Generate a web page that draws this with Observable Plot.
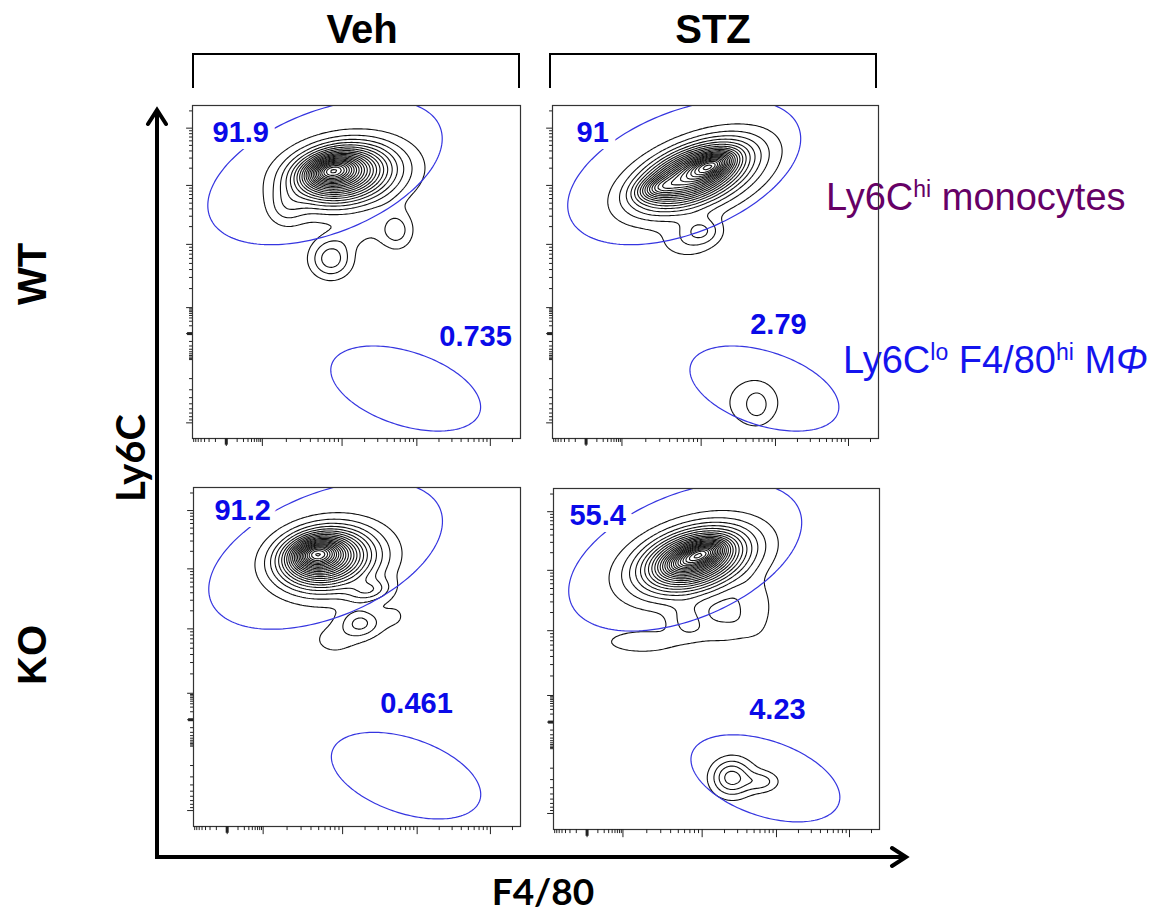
<!DOCTYPE html>
<html><head><meta charset="utf-8">
<script src="https://cdn.jsdelivr.net/npm/d3@7"></script>
<script src="https://cdn.jsdelivr.net/npm/@observablehq/plot@0.6"></script>
<style>
body{margin:0;background:#fff;}
#wrap{position:relative;width:1163px;height:915px;overflow:hidden;background:#fff}
#wrap svg{position:absolute}
</style></head><body><div id="wrap"></div>
<script>
// ---------------- data ----------------
const conditions = ["Veh", "STZ"];
const genotypes = ["WT", "KO"];
const panelKeys = ["WT-Veh", "WT-STZ", "KO-Veh", "KO-STZ"];
const monocytePct = ["91.9", "91", "91.2", "55.4"];
const macrophagePct = ["0.735", "2.79", "0.461", "4.23"];

// cell populations (channel units 0-1000 on each axis): centre, spread, tilt, relative weight
const popWTVeh = [
  {x: 420, y: 806, sx: 45, sy: 24, angle: 12, w: 0.25},
  {x: 440, y: 800, sx: 82, sy: 45, angle: 10, w: 0.33},
  {x: 470, y: 788, sx: 115, sy: 64, angle: 8, w: 0.30},
  {x: 285, y: 690, sx: 40, sy: 40, angle: 0, w: 0.06},
  {x: 422, y: 539, sx: 44, sy: 40, angle: 0, w: 0.13},
  {x: 622, y: 624, sx: 36, sy: 40, angle: 0, w: 0.088},
  {x: 500, y: 610, sx: 60, sy: 30, angle: 10, w: 0.035}
];
const popWTSTZ = [
  {x: 490, y: 822, sx: 42, sy: 20, angle: 20, w: 0.26},
  {x: 320, y: 752, sx: 40, sy: 20, angle: 15, w: 0.14},
  {x: 430, y: 795, sx: 100, sy: 42, angle: 22, w: 0.33},
  {x: 440, y: 785, sx: 130, sy: 62, angle: 20, w: 0.30},
  {x: 459, y: 624, sx: 42, sy: 28, angle: 0, w: 0.09},
  {x: 410, y: 585, sx: 60, sy: 35, angle: 0, w: 0.05},
  {x: 628, y: 100, sx: 22, sy: 28, angle: 0, w: 0.042},
  {x: 617, y: 108, sx: 70, sy: 62, angle: 0, w: 0.06}
];
const popKOVeh = [
  {x: 372, y: 806, sx: 42, sy: 24, angle: 8, w: 0.25},
  {x: 385, y: 798, sx: 75, sy: 45, angle: 8, w: 0.33},
  {x: 420, y: 785, sx: 105, sy: 64, angle: 8, w: 0.30},
  {x: 540, y: 695, sx: 45, sy: 22, angle: 10, w: 0.10},
  {x: 512, y: 600, sx: 42, sy: 30, angle: 0, w: 0.11},
  {x: 430, y: 550, sx: 60, sy: 40, angle: 0, w: 0.045},
  {x: 620, y: 620, sx: 40, sy: 40, angle: 0, w: 0.035}
];
const popKOSTZ = [
  {x: 460, y: 812, sx: 42, sy: 20, angle: 15, w: 0.26},
  {x: 395, y: 780, sx: 40, sy: 20, angle: 15, w: 0.11},
  {x: 430, y: 795, sx: 90, sy: 45, angle: 15, w: 0.32},
  {x: 430, y: 785, sx: 125, sy: 64, angle: 15, w: 0.30},
  {x: 273, y: 550, sx: 90, sy: 26, angle: 0, w: 0.06},
  {x: 410, y: 612, sx: 40, sy: 34, angle: 0, w: 0.07},
  {x: 620, y: 650, sx: 35, sy: 50, angle: 0, w: 0.065},
  {x: 520, y: 580, sx: 70, sy: 28, angle: 0, w: 0.05},
  {x: 545, y: 152, sx: 40, sy: 36, angle: 0, w: 0.14},
  {x: 640, y: 140, sx: 35, sy: 20, angle: 0, w: 0.07},
  {x: 580, y: 150, sx: 75, sy: 50, angle: 0, w: 0.025}
];
const populations = [popWTVeh, popWTSTZ, popKOVeh, popKOSTZ];

// gates (channel units)
const gateMono = {cx: 404, cy: 800, rx: 376, ry: 184, angle: 20.9};
const gateMac = {cx: 650, cy: 150, rx: 237, ry: 111, angle: -17.6};

// biexponential axis decades (channel units): 0, 10^2, 10^3, 10^4, 10^5
const xDecades = [103, 213, 456, 684, 908];
const yDecades = [315, 393, 583, 760, 932];

// ---------------- layout ----------------
const frames = [
  {left: 192, top: 105, w: 328, h: 333},
  {left: 552, top: 105, w: 326, h: 333},
  {left: 193, top: 487, w: 327, h: 339},
  {left: 553, top: 488, w: 326, h: 341}
];
const hiLabelPos = [[61, 889], [74, 889], [64, 903], [49, 894]];
const loLabelPos = [[863, 279], [693, 315], [682, 336], [687, 323]];
const levels = d3.range(0.035, 1.0, 0.036);
const gateColor = "#3535e0";
const pctColor = "#0a0ae8";

function densityOf(pop) {
  const comps = pop.map(b => {
    const a = b.angle * Math.PI / 180;
    return {...b, c: Math.cos(a), s: Math.sin(a)};
  });
  return (x, y) => {
    let v = 0;
    for (const b of comps) {
      const dx = x - b.x, dy = y - b.y;
      const u = dx * b.c + dy * b.s, t = -dx * b.s + dy * b.c;
      v += b.w * Math.exp(-0.5 * (u * u / (b.sx * b.sx) + t * t / (b.sy * b.sy)));
    }
    return v;
  };
}
function ellipsePts(g) {
  const a = g.angle * Math.PI / 180, pts = [];
  for (let k = 0; k <= 180; k++) {
    const t = k / 180 * 2 * Math.PI;
    pts.push({
      x: g.cx + g.rx * Math.cos(t) * Math.cos(a) - g.ry * Math.sin(t) * Math.sin(a),
      y: g.cy + g.rx * Math.cos(t) * Math.sin(a) + g.ry * Math.sin(t) * Math.cos(a)
    });
  }
  return pts;
}
const mults = [2, 3, 4, 5, 6, 7, 8, 9];
function minorTicks(dec) {
  const out = [];
  const spans = [];
  for (let i = 0; i < dec.length - 1; i++) spans.push([dec[i], dec[i + 1] - dec[i]]);
  spans.push([dec[dec.length - 1], dec[dec.length - 1] - dec[dec.length - 2]]);
  for (const [lo, span] of spans) for (const m of mults) out.push(lo + span * Math.log10(m));
  const z = dec[0], s1 = dec[1] - dec[0], s2 = dec[2] - dec[1];
  for (const m of mults) { out.push(z - s1 * Math.log10(m)); out.push(z - s1 - s2 * Math.log10(m)); }
  out.push(z - s1);
  return out.filter(v => v >= 0 && v <= 1000);
}
const xMinor = minorTicks(xDecades), yMinor = minorTicks(yDecades);
const yMajor = [...yDecades, yDecades[0] - (yDecades[2] - yDecades[0])].filter(v => v >= 0);

const wrap = document.getElementById("wrap");

// decorations
const deco = d3.select(wrap).append("svg").attr("width", 1163).attr("height", 915).style("left", 0).style("top", 0);
const ink = "#000";
deco.append("path").attr("d", "M193,88V54H519V88M550,88V54H876V88").attr("fill", "none").attr("stroke", ink).attr("stroke-width", 2);
deco.append("path").attr("d", "M157,857V110M155,857H906").attr("fill", "none").attr("stroke", ink).attr("stroke-width", 4);
deco.append("path").attr("d", "M148,124L157,110L166,124M892,848L906,857L892,866").attr("fill", "none").attr("stroke", ink).attr("stroke-width", 4).attr("stroke-linejoin", "miter").attr("stroke-linecap", "round");
const bold = {"font-family": "'Liberation Sans', Arial, sans-serif", "font-weight": "bold"};
function addText(txt, x, y, attrs, rot) {
  const t = deco.append("text").attr("x", x).attr("y", y).text(txt);
  for (const k in attrs) t.attr(k, attrs[k]);
  if (rot) t.attr("transform", `rotate(${rot},${x},${y})`);
  return t;
}
addText(conditions[0], 362, 43, {...bold, "font-size": 40, "text-anchor": "middle"});
addText(conditions[1], 713, 43, {...bold, "font-size": 40, "text-anchor": "middle"});
addText(genotypes[0], 46, 274, {...bold, "font-size": 40, "text-anchor": "middle"}, -90);
addText(genotypes[1], 46, 655, {...bold, "font-size": 40, "text-anchor": "middle"}, -90);
addText("Ly6C", 145, 458, {"font-family": "Lato, sans-serif", "font-weight": "bold", "font-size": 40, "text-anchor": "middle"}, -90);
addText("F4/80", 543, 905, {"font-family": "Lato, sans-serif", "font-weight": "bold", "font-size": 37, "text-anchor": "middle"});
const t1 = deco.append("text").attr("x", 826).attr("y", 210).attr("font-family", "'Liberation Sans', Arial, sans-serif").attr("font-size", 38).attr("fill", "#660066");
t1.append("tspan").text("Ly6C");
t1.append("tspan").attr("font-size", 23).attr("dy", -13).text("hi");
t1.append("tspan").attr("dy", 13).text(" monocytes");
const t2 = deco.append("text").attr("x", 843).attr("y", 373).attr("font-family", "'Liberation Sans', Arial, sans-serif").attr("font-size", 38).attr("fill", "#1414ee");
t2.append("tspan").text("Ly6C");
t2.append("tspan").attr("font-size", 23).attr("dy", -13).text("lo");
t2.append("tspan").attr("dy", 13).text(" F4/80");
t2.append("tspan").attr("font-size", 23).attr("dy", -13).text("hi");
t2.append("tspan").attr("dy", 13).text(" M");
t2.append("tspan").attr("font-style", "italic").text("\u03A6");

// panels
const mL = 10, mR = 2, mT = 2, mB = 12;
panelKeys.forEach((key, i) => {
  const f = frames[i];
  const svg = Plot.plot({
    width: f.w + mL + mR, height: f.h + mT + mB,
    marginLeft: mL, marginRight: mR, marginTop: mT, marginBottom: mB,
    x: {domain: [0, 1000], axis: null},
    y: {domain: [0, 1000], axis: null},
    style: {background: "transparent", overflow: "visible"},
    marks: [
      Plot.contour({value: densityOf(populations[i]), x1: 0, x2: 1000, y1: 0, y2: 1000,
        thresholds: levels, stroke: "#111", fill: "none", strokeWidth: 1.1}),
      Plot.line(ellipsePts(gateMono), {x: "x", y: "y", stroke: gateColor, strokeWidth: 1.2, clip: true}),
      Plot.line(ellipsePts(gateMac), {x: "x", y: "y", stroke: gateColor, strokeWidth: 1.2, clip: true}),
      Plot.frame({stroke: "#333", strokeWidth: 1.2}),
      Plot.ruleX(xDecades, {x: d => d, y1: 0, y2: -24, stroke: "#222"}),
      Plot.ruleX(xMinor, {x: d => d, y1: 0, y2: -12, stroke: "#222"}),
      Plot.ruleX([xDecades[0]], {x: d => d, y1: 0, y2: -20, stroke: "#222", strokeWidth: 3}),
      Plot.ruleY(yMajor, {y: d => d, x1: 0, x2: -18, stroke: "#222"}),
      Plot.ruleY(yMinor, {y: d => d, x1: 0, x2: -9, stroke: "#222"}),
      Plot.ruleY([yDecades[0]], {y: d => d, x1: 0, x2: -15, stroke: "#222", strokeWidth: 3}),
      Plot.text([monocytePct[i]], {x: hiLabelPos[i][0], y: hiLabelPos[i][1], text: d => d,
        textAnchor: "start", lineAnchor: "bottom", fontSize: 29, fontWeight: "bold",
        fontFamily: "'Liberation Sans', Arial, sans-serif", fill: pctColor, stroke: "white", strokeWidth: 14, paintOrder: "stroke"}),
      Plot.text([macrophagePct[i]], {x: loLabelPos[i][0], y: loLabelPos[i][1], text: d => d,
        textAnchor: "middle", lineAnchor: "bottom", fontSize: 29, fontWeight: "bold",
        fontFamily: "'Liberation Sans', Arial, sans-serif", fill: pctColor, stroke: "white", strokeWidth: 8, paintOrder: "stroke"})
    ]
  });
  svg.style.position = "absolute";
  svg.style.left = (f.left - mL) + "px";
  svg.style.top = (f.top - mT) + "px";
  wrap.appendChild(svg);
});
</script>
</body></html>
